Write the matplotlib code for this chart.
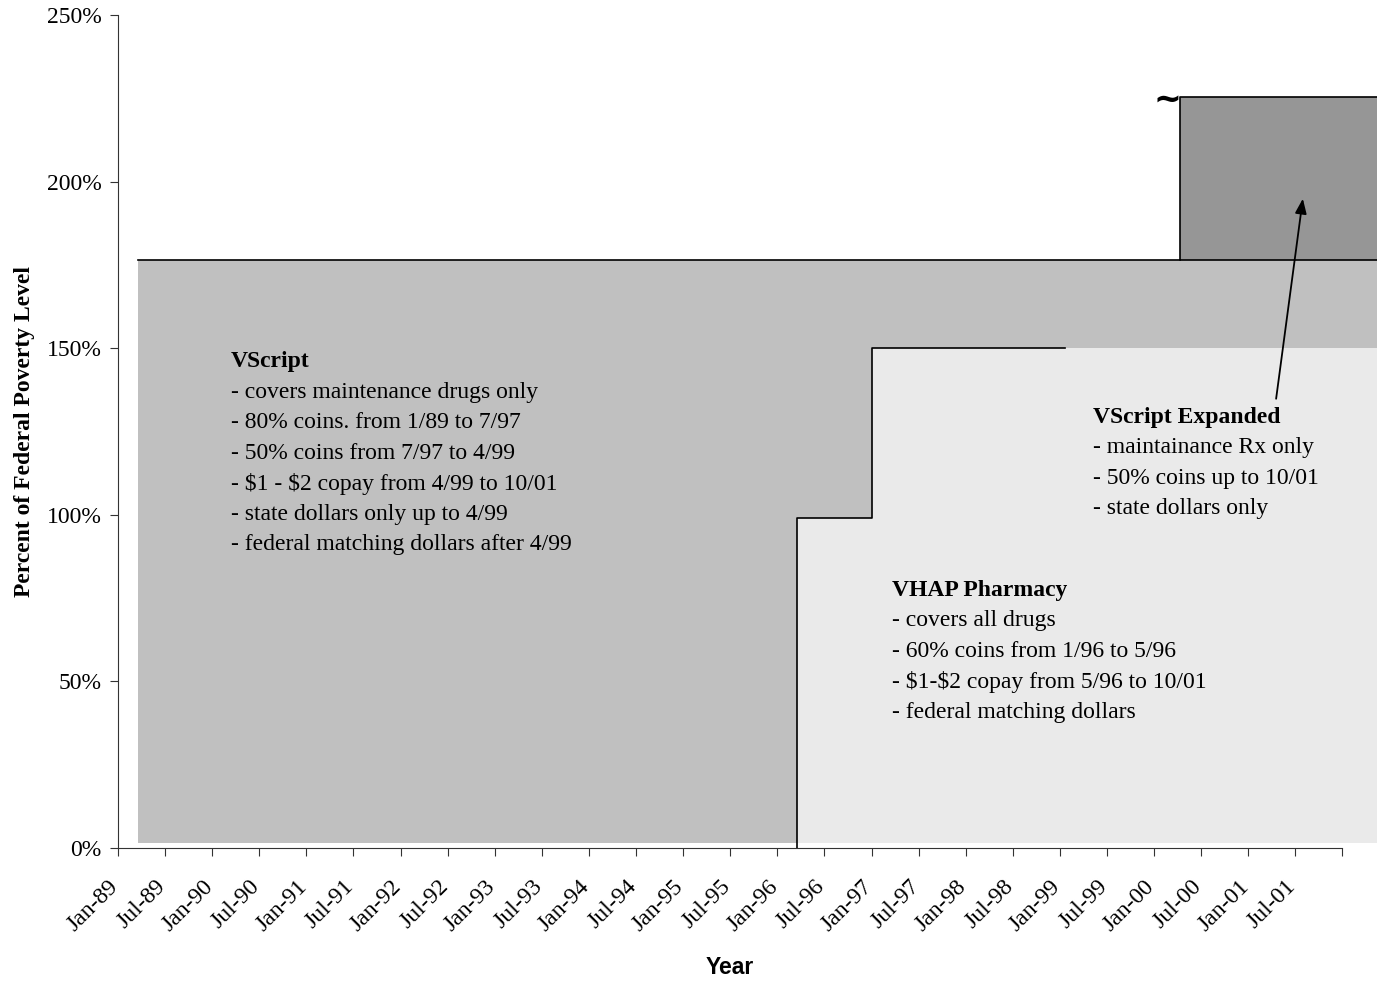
import matplotlib.pyplot as plt
import matplotlib.transforms as mtransforms

# x values are months counted from Jan-89
tick_labels = ["Jan-89", "Jul-89", "Jan-90", "Jul-90", "Jan-91", "Jul-91", "Jan-92", "Jul-92",
               "Jan-93", "Jul-93", "Jan-94", "Jul-94", "Jan-95", "Jul-95", "Jan-96", "Jul-96",
               "Jan-97", "Jul-97", "Jan-98", "Jul-98", "Jan-99", "Jul-99", "Jan-00", "Jul-00",
               "Jan-01", "Jul-01", ""]
tick_months = [6 * i for i in range(len(tick_labels))]

# VScript band
vscript_x = [2.5, 160.4]
vscript_top = 176.5
vscript_bottom = 1.5

# VHAP Pharmacy steps
vhap_x = [86.5, 96.0, 160.4]
vhap_level = [99.0, 150.0, 150.0]

# VScript Expanded band
exp_x = [135.3, 160.4]
exp_top = 225.4

vscript_text = ["- covers maintenance drugs only", "- 80% coins. from 1/89 to 7/97",
                "- 50% coins from 7/97 to 4/99", "- $1 - $2 copay from 4/99 to 10/01",
                "- state dollars only up to 4/99", "- federal matching dollars after 4/99"]
vhap_text = ["- covers all drugs", "- 60% coins from 1/96 to 5/96",
             "- $1-$2 copay from 5/96 to 10/01", "- federal matching dollars"]
exp_text = ["- maintainance Rx only", "- 50% coins up to 10/01", "- state dollars only"]

serif = "Liberation Serif"
fs = 17

fig = plt.figure(figsize=(13.77, 9.82), dpi=100)
ax = fig.add_axes([118 / 1377, 1 - 848 / 982, 1 - 118 / 1377, (848 - 15) / 982])

# filled areas
ax.fill_between(vscript_x, vscript_bottom, vscript_top, color="#C0C0C0", lw=0)
ax.fill_between(vhap_x, vscript_bottom, vhap_level, step="post", color="#EAEAEA", lw=0)
ax.fill_between(exp_x, vscript_top, exp_top, color="#969696", lw=0)

# outlines
ax.plot([vscript_x[0], exp_x[0]], [vscript_top, vscript_top], color="black", lw=1.2)
ax.plot([vhap_x[0], vhap_x[0], vhap_x[1], vhap_x[1], 120.6],
        [0, vhap_level[0], vhap_level[0], vhap_level[1], vhap_level[1]], color="black", lw=1.2)
ax.plot([exp_x[1], exp_x[0], exp_x[0], exp_x[1]],
        [vscript_top, vscript_top, exp_top, exp_top], color="black", lw=1.2)
ax.text(133.7, exp_top - 0.8, "~", fontsize=24, fontweight="bold", ha="center", va="center",
        family="DejaVu Sans")

# annotation texts
def block(x, y, title, lines, step=9.15):
    ax.text(x, y, title, family=serif, fontsize=fs, fontweight="bold", va="center")
    for i, s in enumerate(lines):
        ax.text(x, y - step * (i + 1), s, family=serif, fontsize=fs, va="center",
                parse_math=False)

block(14.4, 145.9, "VScript", vscript_text)
block(98.6, 77.4, "VHAP Pharmacy", vhap_text)
block(124.2, 129.3, "VScript Expanded", exp_text)

ax.annotate("", xy=(151.0, 195.7), xytext=(147.5, 134.0),
            arrowprops=dict(arrowstyle="-|>,head_length=0.9,head_width=0.35",
                            color="black", lw=1.3))

# axes
ax.set_xlim(0, 160.4)
ax.set_ylim(0, 250)
ax.set_yticks([0, 50, 100, 150, 200, 250])
ax.set_yticklabels(["0%", "50%", "100%", "150%", "200%", "250%"], family=serif, fontsize=fs)
ax.set_xticks(tick_months)
ax.set_xticklabels(tick_labels, family=serif, fontsize=fs, rotation=45,
                   ha="right", va="top", rotation_mode="anchor")
ax.tick_params(axis="both", direction="out", length=6, color="#333333")
ax.tick_params(axis="x", pad=14)
ax.tick_params(axis="y", pad=6)
shift = mtransforms.ScaledTranslation(-10 / 100, 0, fig.dpi_scale_trans)
for lab in ax.get_xticklabels():
    lab.set_transform(lab.get_transform() + shift)
ax.spines["top"].set_visible(False)
ax.spines["right"].set_visible(False)
ax.spines["bottom"].set_bounds(0, 156)
for sp in ["left", "bottom"]:
    ax.spines[sp].set_color("#333333")

ax.set_ylabel("Percent of Federal Poverty Level", family=serif, fontsize=fs,
              fontweight="bold", labelpad=8)
fig.text(730 / 1377, 1 - 968 / 982, "Year", family="Liberation Sans", fontsize=16.5,
         fontweight="bold", ha="center", va="center")

fig.savefig("out.png", dpi=100)
